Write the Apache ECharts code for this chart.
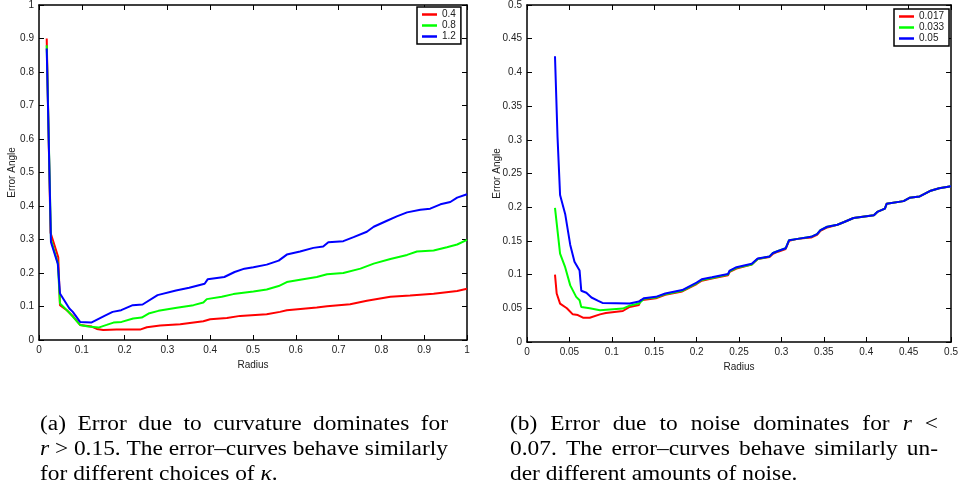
<!DOCTYPE html>
<html>
<head>
<meta charset="utf-8">
<script src="https://cdn.jsdelivr.net/npm/echarts@6/dist/echarts.min.js"></script>
<style>
html,body{margin:0;padding:0;background:#fff;}
#chart{width:961px;height:490px;}
</style>
</head>
<body>
<div id="chart"></div>
<script>
// ---------- Data (a): error vs radius for different kappa ----------
const kappaNames = ['0.4', '0.8', '1.2'];
const kappa04 = [[0.018,0.90],[0.027,0.32],[0.030,0.317],[0.045,0.247],[0.049,0.104],[0.065,0.089],[0.080,0.070],[0.096,0.045],[0.123,0.040],[0.135,0.033],[0.150,0.030],[0.181,0.031],[0.236,0.031],[0.252,0.038],[0.283,0.043],[0.330,0.047],[0.384,0.056],[0.400,0.062],[0.439,0.066],[0.470,0.072],[0.532,0.077],[0.563,0.084],[0.579,0.089],[0.649,0.097],[0.673,0.101],[0.727,0.107],[0.766,0.117],[0.821,0.129],[0.867,0.133],[0.922,0.138],[0.977,0.146],[1.0,0.153]];
const kappa08 = [[0.018,0.88],[0.028,0.30],[0.044,0.23],[0.049,0.109],[0.069,0.084],[0.096,0.045],[0.115,0.040],[0.139,0.037],[0.158,0.045],[0.174,0.052],[0.193,0.054],[0.220,0.064],[0.240,0.067],[0.256,0.079],[0.279,0.087],[0.322,0.096],[0.361,0.104],[0.384,0.112],[0.392,0.122],[0.427,0.129],[0.454,0.137],[0.501,0.145],[0.532,0.151],[0.560,0.161],[0.579,0.173],[0.610,0.180],[0.649,0.188],[0.673,0.196],[0.711,0.200],[0.751,0.213],[0.782,0.228],[0.821,0.242],[0.860,0.254],[0.883,0.264],[0.922,0.267],[0.953,0.277],[0.977,0.285],[1.0,0.299]];
const kappa12 = [[0.018,0.87],[0.028,0.292],[0.044,0.227],[0.049,0.139],[0.071,0.094],[0.079,0.084],[0.096,0.054],[0.122,0.052],[0.153,0.072],[0.172,0.084],[0.192,0.089],[0.219,0.104],[0.242,0.106],[0.277,0.134],[0.320,0.148],[0.351,0.156],[0.387,0.168],[0.394,0.181],[0.433,0.188],[0.457,0.203],[0.480,0.213],[0.501,0.217],[0.532,0.225],[0.560,0.237],[0.579,0.255],[0.610,0.264],[0.641,0.275],[0.664,0.279],[0.676,0.292],[0.711,0.295],[0.735,0.307],[0.766,0.323],[0.782,0.338],[0.813,0.356],[0.836,0.369],[0.860,0.381],[0.891,0.389],[0.914,0.392],[0.938,0.405],[0.961,0.412],[0.977,0.425],[1.0,0.435]];

// ---------- Data (b): error vs radius for different noise ----------
const noiseNames = ['0.017', '0.033', '0.05'];
const noise017 = [[0.033,0.100],[0.035,0.072],[0.039,0.057],[0.047,0.050],[0.054,0.041],[0.060,0.040],[0.066,0.036],[0.074,0.036],[0.086,0.041],[0.093,0.043],[0.113,0.046],[0.121,0.052],[0.132,0.055],[0.134,0.062],[0.152,0.065],[0.163,0.070],[0.183,0.075],[0.200,0.086],[0.206,0.091],[0.218,0.094],[0.237,0.099],[0.239,0.104],[0.247,0.109],[0.265,0.115],[0.272,0.123],[0.286,0.126],[0.290,0.131],[0.296,0.134],[0.305,0.138],[0.309,0.150],[0.319,0.153],[0.335,0.155],[0.342,0.159],[0.346,0.165],[0.354,0.170],[0.366,0.174],[0.374,0.178],[0.385,0.184],[0.409,0.188],[0.413,0.193],[0.422,0.198],[0.424,0.205],[0.444,0.209],[0.451,0.214],[0.463,0.216],[0.475,0.224],[0.486,0.228],[0.500,0.231]];
const noise033 = [[0.033,0.199],[0.039,0.131],[0.045,0.111],[0.051,0.084],[0.058,0.067],[0.062,0.062],[0.064,0.052],[0.074,0.050],[0.086,0.047],[0.113,0.0496],[0.121,0.054],[0.132,0.057],[0.138,0.064],[0.152,0.066],[0.163,0.071],[0.183,0.076],[0.200,0.087],[0.206,0.092],[0.218,0.095],[0.237,0.100],[0.239,0.105],[0.247,0.110],[0.265,0.115],[0.272,0.123],[0.286,0.127],[0.290,0.132],[0.296,0.135],[0.305,0.139],[0.309,0.151],[0.319,0.153],[0.335,0.156],[0.342,0.160],[0.346,0.166],[0.354,0.171],[0.366,0.174],[0.374,0.178],[0.385,0.184],[0.409,0.188],[0.413,0.193],[0.422,0.198],[0.424,0.205],[0.444,0.209],[0.451,0.214],[0.463,0.216],[0.475,0.224],[0.486,0.228],[0.500,0.231]];
const noise05 = [[0.033,0.424],[0.036,0.304],[0.039,0.218],[0.045,0.190],[0.051,0.144],[0.056,0.119],[0.062,0.106],[0.064,0.076],[0.070,0.073],[0.076,0.066],[0.084,0.061],[0.089,0.058],[0.121,0.057],[0.132,0.060],[0.138,0.065],[0.152,0.067],[0.163,0.072],[0.183,0.077],[0.200,0.088],[0.206,0.093],[0.218,0.096],[0.237,0.101],[0.239,0.106],[0.247,0.111],[0.265,0.116],[0.272,0.124],[0.286,0.127],[0.290,0.132],[0.296,0.135],[0.305,0.139],[0.309,0.151],[0.319,0.153],[0.335,0.156],[0.342,0.160],[0.346,0.166],[0.354,0.171],[0.366,0.174],[0.374,0.178],[0.385,0.184],[0.409,0.188],[0.413,0.193],[0.422,0.198],[0.424,0.205],[0.444,0.209],[0.451,0.214],[0.463,0.216],[0.475,0.224],[0.486,0.228],[0.500,0.231]];

// ---------- Axis settings ----------
const axisA = { xMin: 0, xMax: 1, xStep: 0.1, yMin: 0, yMax: 1, yStep: 0.1 };
const axisB = { xMin: 0, xMax: 0.5, xStep: 0.05, yMin: 0, yMax: 0.5, yStep: 0.05 };
const xTitle = 'Radius';
const yTitle = 'Error Angle';

// ---------- Captions (*...* = italic) ----------
const captionA = [
  '(a) Error due to curvature dominates for',
  '*r* > 0.15. The error–curves behave similarly',
  'for different choices of *κ*.'
];
const captionB = [
  '(b) Error due to noise dominates for *r* <',
  '0.07. The error–curves behave similarly un-',
  'der different amounts of noise.'
];

const colors = ['#ff0000', '#00ff00', '#0000ff'];
const sans = '"Liberation Sans", Arial, Helvetica, sans-serif';

function xAx(grid, a, pos, showLabel, nameGap) {
  return {
    gridIndex: grid, type: 'value', position: pos,
    min: a.xMin, max: a.xMax, interval: a.xStep,
    name: showLabel ? xTitle : '', nameLocation: 'middle', nameGap: nameGap,
    nameTextStyle: { fontSize: 10, color: '#222', fontFamily: sans },
    axisLine: { show: true, onZero: false, lineStyle: { color: '#000', width: 1.5 } },
    axisTick: { show: true, inside: true, length: 5, lineStyle: { color: '#000', width: 1 } },
    axisLabel: { show: showLabel, fontSize: 10, color: '#222', margin: 5, fontFamily: sans },
    splitLine: { show: false }
  };
}
function yAx(grid, a, pos, showLabel, nameGap) {
  return {
    gridIndex: grid, type: 'value', position: pos,
    min: a.yMin, max: a.yMax, interval: a.yStep,
    name: showLabel ? yTitle : '', nameLocation: 'middle', nameGap: nameGap,
    nameMoveOverlap: false,
    nameTextStyle: { fontSize: 10, color: '#222', fontFamily: sans },
    axisLine: { show: true, onZero: false, lineStyle: { color: '#000', width: 1.5 } },
    axisTick: { show: true, inside: true, length: 5, lineStyle: { color: '#000', width: 1 } },
    axisLabel: { show: showLabel, fontSize: 10, color: '#222', margin: 5, fontFamily: sans },
    splitLine: { show: false }
  };
}
function ser(name, data, xi, yi, c) {
  return {
    name: name, type: 'line', data: data, xAxisIndex: xi, yAxisIndex: yi,
    symbol: 'none', showSymbol: false, color: c,
    lineStyle: { color: c, width: 2 }, itemStyle: { color: c },
    animation: false, z: 3
  };
}
function legend(names, left, top) {
  return {
    data: names.map(n => ({ name: n, icon: 'rect' })),
    left: left, top: top, orient: 'vertical',
    backgroundColor: '#fff', borderColor: '#000', borderWidth: 1.5,
    padding: [2, 5, 2, 5], itemGap: 0, itemWidth: 15, itemHeight: 2.5,
    textStyle: { fontSize: 10, color: '#222', fontFamily: sans, lineHeight: 11 },
    selectedMode: false
  };
}

// ---------- Caption layout (justified lines) ----------
const capFontSize = 20;
const capScaleX = 1.17;
const measureCtx = document.createElement('canvas').getContext('2d');
function fontOf(it) { return (it ? 'italic ' : '') + capFontSize + 'px "Liberation Serif", "Times New Roman", serif'; }
function parseWord(w) {
  const parts = w.split('*'); const segs = [];
  parts.forEach((p, i) => { if (p) segs.push({ t: p, it: i % 2 === 1 }); });
  return segs;
}
function segW(s) { measureCtx.font = fontOf(s.it); return measureCtx.measureText(s.t).width * capScaleX; }
function captionGraphics(lines, x0, x1, yTop, lh) {
  const out = [];
  measureCtx.font = fontOf(false);
  const spaceW = measureCtx.measureText(' ').width * capScaleX;
  lines.forEach((line, li) => {
    const words = line.split(' ').map(parseWord);
    const widths = words.map(ws => ws.reduce((a, s) => a + segW(s), 0));
    const total = widths.reduce((a, b) => a + b, 0);
    const justify = li < lines.length - 1;
    const gap = justify ? (x1 - x0 - total) / (words.length - 1) : spaceW;
    let x = x0;
    const y = yTop + li * lh;
    words.forEach((ws, wi) => {
      let sx = x;
      ws.forEach(s => {
        out.push({ type: 'text', x: sx, y: y, scaleX: capScaleX, silent: true,
          style: { text: s.t, font: fontOf(s.it), fill: '#000', align: 'left', verticalAlign: 'middle' } });
        sx += segW(s);
      });
      x += widths[wi] + gap;
    });
  });
  return out;
}

const graphics = [].concat(
  captionGraphics(captionA, 40, 448, 425, 25),
  captionGraphics(captionB, 510, 938, 425, 25)
);

const chart = echarts.init(document.getElementById('chart'), null, { renderer: 'canvas' });
chart.setOption({
  backgroundColor: '#fff',
  animation: false,
  grid: [
    { left: 39, top: 3, width: 428, height: 337 },
    { left: 527, top: 5, width: 428, height: 337 }
  ],
  xAxis: [
    xAx(0, axisA, 'bottom', true, 15), xAx(0, axisA, 'top', false, 0),
    xAx(1, axisB, 'bottom', true, 15), xAx(1, axisB, 'top', false, 0)
  ],
  yAxis: [
    yAx(0, axisA, 'left', true, 22), yAx(0, axisA, 'right', false, 0),
    yAx(1, axisB, 'left', true, 25), yAx(1, axisB, 'right', false, 0)
  ],
  legend: [legend(kappaNames, 417, 7), legend(noiseNames, 894, 9)],
  series: [
    ser(kappaNames[0], kappa04, 0, 0, colors[0]),
    ser(kappaNames[1], kappa08, 0, 0, colors[1]),
    ser(kappaNames[2], kappa12, 0, 0, colors[2]),
    ser(noiseNames[0], noise017, 2, 2, colors[0]),
    ser(noiseNames[1], noise033, 2, 2, colors[1]),
    ser(noiseNames[2], noise05, 2, 2, colors[2])
  ],
  graphic: graphics
});
</script>
</body>
</html>
